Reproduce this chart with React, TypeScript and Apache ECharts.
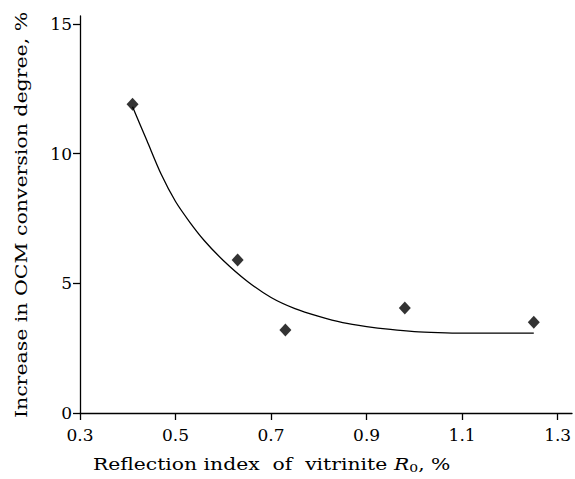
import React, { useEffect, useRef } from "react";
import * as echarts from "echarts";

const measuredPoints: [number, number][] = [
  [0.41, 11.9],
  [0.63, 5.9],
  [0.73, 3.2],
  [0.98, 4.05],
  [1.25, 3.5],
];

const trendCurve: [number, number][] = [
  [0.41, 11.8],
  [0.44, 10.5],
  [0.47, 9.2],
  [0.5, 8.15],
  [0.53, 7.35],
  [0.56, 6.65],
  [0.6, 5.88],
  [0.65, 5.08],
  [0.7, 4.45],
  [0.75, 4.02],
  [0.8, 3.72],
  [0.85, 3.48],
  [0.9, 3.33],
  [0.95, 3.22],
  [1.0, 3.14],
  [1.05, 3.1],
  [1.1, 3.08],
  [1.25, 3.08],
];

const xTicks = [0.3, 0.5, 0.7, 0.9, 1.1, 1.3];
const yTicks = [0, 5, 10, 15];

const xTitle = "Reflection index  of  vitrinite ";
const yTitle = "Increase in OCM conversion degree, %";

const FONT = "DejaVu Serif";

export default function App() {
  const ref = useRef<HTMLDivElement>(null);
  useEffect(() => {
    document.body.style.margin = "0";
    const chart = echarts.init(ref.current!, null, { renderer: "svg" });
    chart.setOption({
      animation: false,
      backgroundColor: "#ffffff",
      grid: { left: 80, right: 3, top: 16, bottom: 66 },
      xAxis: {
        type: "value",
        min: 0.3,
        max: 1.33,
        splitLine: { show: false },
        axisLine: { lineStyle: { color: "#000", width: 1.3 } },
        axisTick: { customValues: xTicks, length: 7, lineStyle: { color: "#000", width: 1.3 } },
        axisLabel: {
          customValues: xTicks,
          formatter: (v: number) => v.toFixed(1),
          color: "#000",
          fontFamily: FONT,
          fontSize: 17,
          margin: 13,
        },
      },
      yAxis: {
        type: "value",
        min: 0,
        max: 15.3,
        splitLine: { show: false },
        axisLine: { show: true, lineStyle: { color: "#000", width: 1.3 } },
        axisTick: { show: true, customValues: yTicks, length: 7, lineStyle: { color: "#000", width: 1.3 } },
        axisLabel: {
          customValues: yTicks,
          color: "#000",
          fontFamily: FONT,
          fontSize: 17,
          margin: 8,
        },
      },
      graphic: [
        {
          type: "text",
          x: 93,
          y: 464,
          scaleX: 1.27,
          style: {
            text: xTitle + "{i|R}{s|0}, %",
            fontFamily: FONT,
            fontSize: 16,
            fill: "#000",
            verticalAlign: "middle",
            align: "left",
            rich: {
              i: { fontFamily: FONT, fontSize: 16, fontStyle: "italic", fill: "#000" },
              s: { fontFamily: FONT, fontSize: 11, fill: "#000", padding: [8, 0, 0, 0] },
            },
          },
        },
        {
          type: "text",
          x: 21,
          y: 215,
          rotation: Math.PI / 2,
          scaleX: 1.28,
          style: {
            text: yTitle,
            fontFamily: FONT,
            fontSize: 16,
            fill: "#000",
            align: "center",
            verticalAlign: "middle",
          },
        },
      ],
      series: [
        {
          type: "line",
          data: trendCurve,
          smooth: 0.3,
          showSymbol: false,
          lineStyle: { color: "#000", width: 1.3 },
          z: 1,
        },
        {
          type: "scatter",
          data: measuredPoints,
          symbol: "diamond",
          symbolSize: [12, 13],
          itemStyle: { color: "#000" },
          z: 2,
        },
      ],
    });
    return () => chart.dispose();
  }, []);
  return <div ref={ref} style={{ width: 575, height: 479 }} />;
}
